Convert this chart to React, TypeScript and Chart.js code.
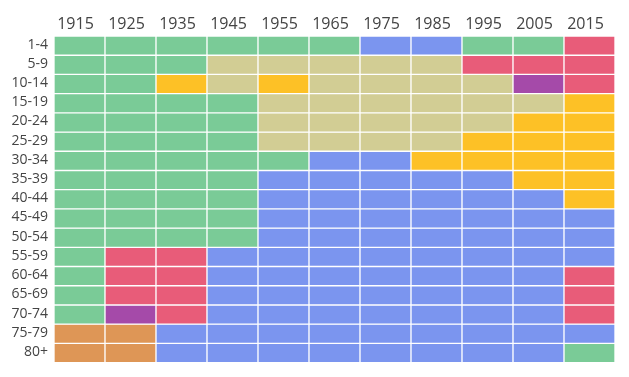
import { useEffect, useRef } from 'react';
import { Chart, registerables } from 'chart.js';
Chart.register(...registerables);

const years = ['1915', '1925', '1935', '1945', '1955', '1965', '1975', '1985', '1995', '2005', '2015'];
const ageGroups = ['1-4', '5-9', '10-14', '15-19', '20-24', '25-29', '30-34', '35-39', '40-44', '45-49', '50-54', '55-59', '60-64', '65-69', '70-74', '75-79', '80+'];

const palette: Record<string, string> = {
  G: '#7acb97',
  B: '#7b95ef',
  K: '#d2cd94',
  Y: '#fdc126',
  R: '#e85c79',
  P: '#a54aa9',
  O: '#de9656',
};

const row1_4 = ['G', 'G', 'G', 'G', 'G', 'G', 'B', 'B', 'G', 'G', 'R'];
const row5_9 = ['G', 'G', 'G', 'K', 'K', 'K', 'K', 'K', 'R', 'R', 'R'];
const row10_14 = ['G', 'G', 'Y', 'K', 'Y', 'K', 'K', 'K', 'K', 'P', 'R'];
const row15_19 = ['G', 'G', 'G', 'G', 'K', 'K', 'K', 'K', 'K', 'K', 'Y'];
const row20_24 = ['G', 'G', 'G', 'G', 'K', 'K', 'K', 'K', 'K', 'Y', 'Y'];
const row25_29 = ['G', 'G', 'G', 'G', 'K', 'K', 'K', 'K', 'Y', 'Y', 'Y'];
const row30_34 = ['G', 'G', 'G', 'G', 'G', 'B', 'B', 'Y', 'Y', 'Y', 'Y'];
const row35_39 = ['G', 'G', 'G', 'G', 'B', 'B', 'B', 'B', 'B', 'Y', 'Y'];
const row40_44 = ['G', 'G', 'G', 'G', 'B', 'B', 'B', 'B', 'B', 'B', 'Y'];
const row45_49 = ['G', 'G', 'G', 'G', 'B', 'B', 'B', 'B', 'B', 'B', 'B'];
const row50_54 = ['G', 'G', 'G', 'G', 'B', 'B', 'B', 'B', 'B', 'B', 'B'];
const row55_59 = ['G', 'R', 'R', 'B', 'B', 'B', 'B', 'B', 'B', 'B', 'B'];
const row60_64 = ['G', 'R', 'R', 'B', 'B', 'B', 'B', 'B', 'B', 'B', 'R'];
const row65_69 = ['G', 'R', 'R', 'B', 'B', 'B', 'B', 'B', 'B', 'B', 'R'];
const row70_74 = ['G', 'P', 'R', 'B', 'B', 'B', 'B', 'B', 'B', 'B', 'R'];
const row75_79 = ['O', 'O', 'B', 'B', 'B', 'B', 'B', 'B', 'B', 'B', 'B'];
const row80p = ['O', 'O', 'B', 'B', 'B', 'B', 'B', 'B', 'B', 'B', 'G'];

const grid = [
  row1_4, row5_9, row10_14, row15_19, row20_24, row25_29, row30_34, row35_39, row40_44,
  row45_49, row50_54, row55_59, row60_64, row65_69, row70_74, row75_79, row80p,
];

const textColor = '#444444';

export default function App() {
  const ref = useRef<HTMLCanvasElement>(null);
  useEffect(() => {
    document.body.style.margin = '0';
    const xFont = { family: "'Open Sans', sans-serif", size: 16 };
    const yFont = { family: "'Open Sans', sans-serif", size: 14 };
    const chart = new Chart(ref.current!, {
      type: 'bar',
      data: {
        labels: years,
        datasets: grid.map((row, i) => ({
          label: ageGroups[i],
          data: years.map(() => 1),
          backgroundColor: row.map((c) => palette[c]),
          borderColor: '#ffffff',
          borderWidth: 1,
          borderSkipped: false,
          barPercentage: 1,
          categoryPercentage: 1,
        })),
      },
      options: {
        responsive: false,
        animation: false,
        events: [],
        layout: { padding: { left: 0, right: 14, top: 0, bottom: 8 } },
        plugins: { legend: { display: false }, tooltip: { enabled: false } },
        scales: {
          x: {
            position: 'top',
            stacked: true,
            grid: { display: false, drawTicks: false },
            border: { display: false },
            ticks: { font: xFont, color: textColor, padding: 2, maxRotation: 0, labelOffset: -4 },
            afterFit: (s: any) => {
              s.height = 36;
            },
          },
          y: {
            type: 'linear',
            stacked: true,
            reverse: true,
            min: 0,
            max: 17,
            grid: { display: false, drawTicks: false },
            border: { display: false },
            afterBuildTicks: (s: any) => {
              s.ticks = ageGroups.map((_, i) => ({ value: i + 0.5 }));
            },
            ticks: {
              font: yFont,
              color: textColor,
              padding: 6,
              autoSkip: false,
              labelOffset: -1,
              callback: (_v: any, i: number) => ageGroups[i],
            },
            afterFit: (s: any) => {
              s.width = 54;
            },
          },
        },
      },
    } as any);
    return () => chart.destroy();
  }, []);
  return <canvas ref={ref} width={629} height={377} style={{ display: 'block' }} />;
}
